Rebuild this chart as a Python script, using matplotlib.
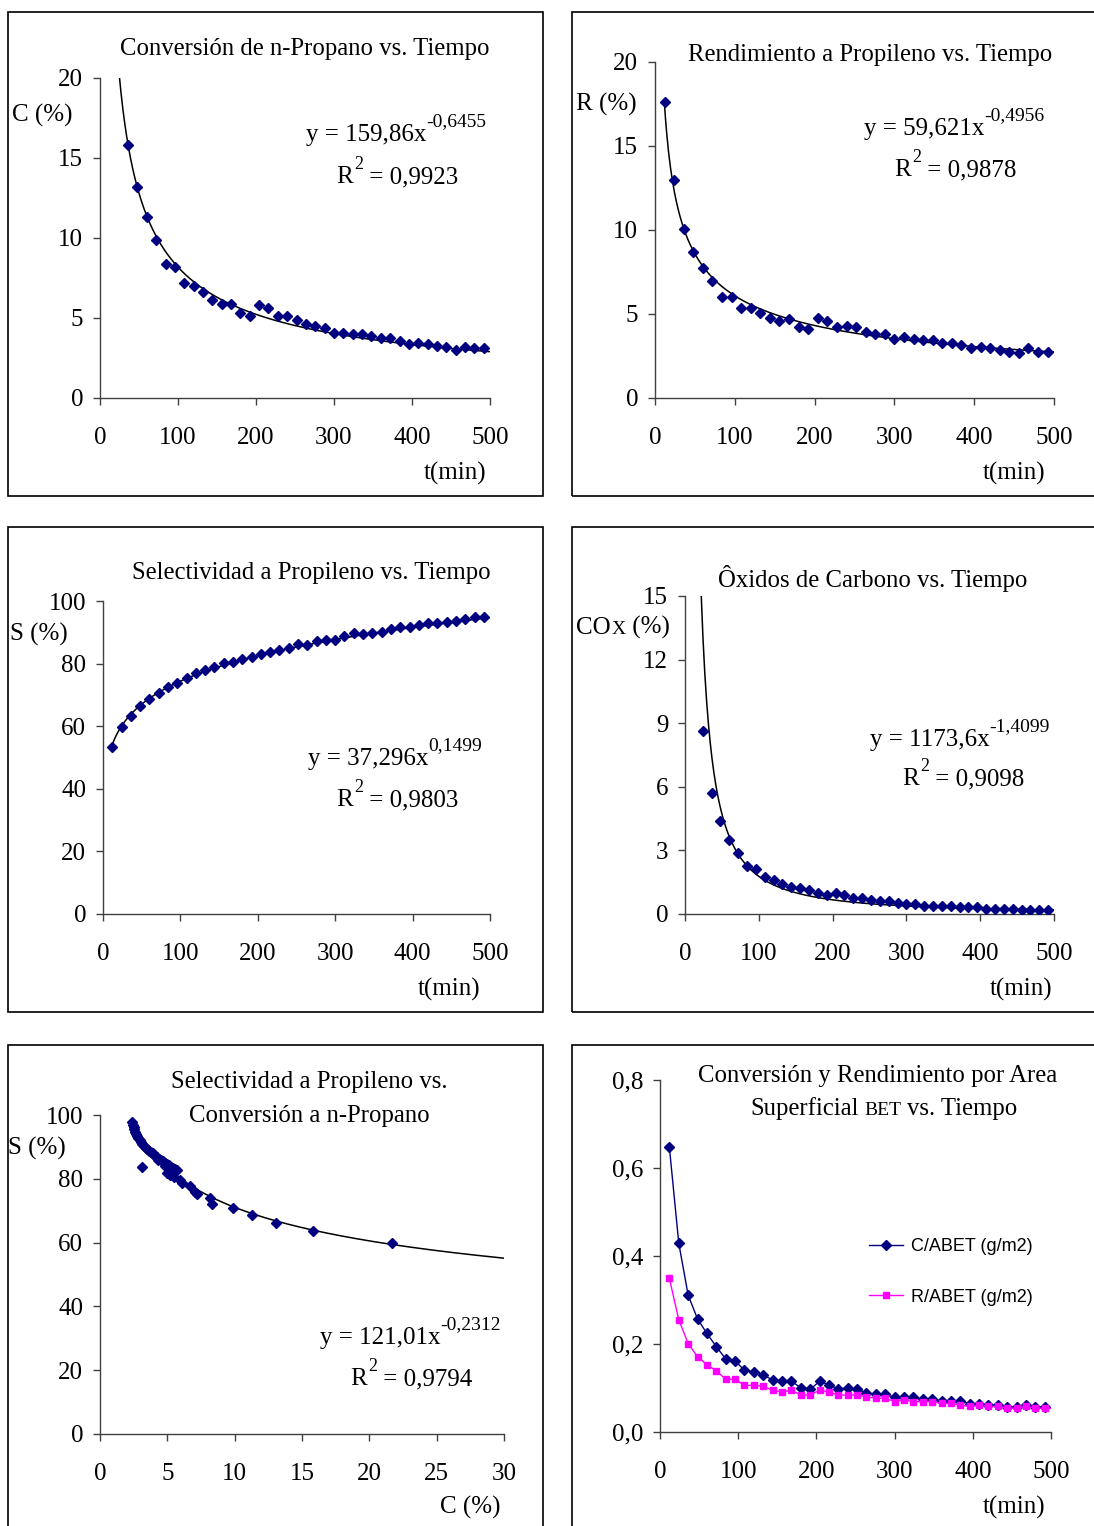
import numpy as np
import matplotlib.pyplot as plt
from matplotlib.patches import Rectangle

plt.rcParams['font.family'] = ['Liberation Serif', 'DejaVu Serif']

W, H = 1094, 1526

# tiempo de reaccion (min)
t_min = [12, 24, 36, 48, 60, 72, 84, 96, 108, 120, 132, 144, 156, 168, 180, 192,
         204, 216, 228, 240, 252, 264, 276, 288, 300, 312, 324, 336, 348, 360, 372,
         384, 396, 408, 420, 432, 444, 456, 468, 480, 492]
t_abet = t_min + [504]

# conversion de n-propano C (%)
conv = [33.0, 21.9, 15.8, 13.2, 11.3, 9.9, 8.4, 8.2, 7.2, 7.0, 6.6, 6.1, 5.9, 5.9,
        5.3, 5.1, 5.8, 5.6, 5.1, 5.1, 4.9, 4.6, 4.5, 4.4, 4.06, 4.06, 4.0, 4.0, 3.9,
        3.75, 3.75, 3.56, 3.35, 3.45, 3.35, 3.27, 3.17, 3.0, 3.17, 3.1, 3.1]
# rendimiento a propileno R (%)
rend = [17.6, 12.98, 10.06, 8.7, 7.76, 6.98, 6.03, 6.03, 5.36, 5.36, 5.08, 4.78,
        4.58, 4.68, 4.2, 4.1, 4.78, 4.58, 4.2, 4.3, 4.2, 3.9, 3.8, 3.8, 3.53, 3.63,
        3.53, 3.43, 3.43, 3.25, 3.25, 3.15, 2.96, 3.05, 2.96, 2.86, 2.76, 2.66, 2.96,
        2.76, 2.76]
# selectividad a propileno S (%)
selec = [53.4, 59.7, 63.4, 66.5, 68.6, 70.5, 72.6, 73.7, 75.3, 76.9, 78.0, 79.0,
         80.1, 80.6, 81.4, 82.0, 83.0, 83.6, 84.3, 85.1, 86.2, 85.9, 87.2, 87.5,
         87.5, 88.8, 89.7, 89.4, 89.9, 90.2, 91.0, 91.8, 91.8, 92.3, 92.9, 92.9,
         93.2, 93.7, 94.2, 95.0, 94.8]
# oxidos de carbono COx (%)
cox = [15.4, 8.65, 5.69, 4.4, 3.47, 2.88, 2.28, 2.12, 1.76, 1.59, 1.43, 1.29, 1.21,
       1.13, 0.99, 0.91, 0.99, 0.91, 0.75, 0.75, 0.68, 0.61, 0.61, 0.53, 0.45, 0.45,
       0.4, 0.4, 0.4, 0.4, 0.33, 0.33, 0.33, 0.25, 0.25, 0.25, 0.25, 0.17, 0.17,
       0.17, 0.17]
# S vs C
sc_conv = [2.40, 2.45, 2.50, 2.55, 2.62, 2.70, 2.78, 2.85, 2.95, 3.05, 3.15, 3.25,
           3.38, 3.50, 3.62, 3.75, 3.90, 4.05, 4.20, 4.35, 4.50, 4.65, 4.80, 4.95,
           5.10, 5.25, 5.40, 5.55, 5.75, 3.10, 3.90, 4.30, 4.80, 4.95, 5.20, 5.50,
           5.95, 6.06, 6.68, 7.05, 7.17, 8.17, 8.34, 9.85, 11.3, 13.07, 15.84, 21.65,
           33.0]
sc_sel = [97.9, 97.0, 96.3, 95.5, 94.8, 94.0, 93.4, 92.8, 92.2, 91.5, 91.0, 90.4,
          89.8, 89.3, 88.8, 88.3, 87.8, 87.3, 86.8, 86.3, 85.9, 85.5, 85.0, 84.6,
          84.2, 83.8, 83.4, 83.1, 82.8, 83.8, 88.0, 86.0, 84.0, 81.7, 81.2, 80.5,
          79.6, 78.8, 77.7, 76.0, 75.2, 73.9, 72.1, 70.8, 68.7, 66.2, 63.7, 59.8,
          53.4]
# por area superficial BET (g/m2)
c_abet = [0.647, 0.429, 0.311, 0.257, 0.224, 0.194, 0.166, 0.162, 0.140, 0.137,
          0.130, 0.118, 0.115, 0.115, 0.101, 0.097, 0.115, 0.1076, 0.097, 0.101,
          0.097, 0.0894, 0.0856, 0.0856, 0.0788, 0.0788, 0.0788, 0.075, 0.075,
          0.0712, 0.0712, 0.0712, 0.0644, 0.0644, 0.0606, 0.0606, 0.0568, 0.0568,
          0.0606, 0.0568, 0.0568, 0.054]
r_abet = [0.349, 0.255, 0.201, 0.171, 0.153, 0.139, 0.120, 0.120, 0.106, 0.106,
          0.104, 0.095, 0.091, 0.095, 0.084, 0.084, 0.095, 0.091, 0.084, 0.084,
          0.084, 0.080, 0.077, 0.077, 0.069, 0.073, 0.069, 0.069, 0.069, 0.065,
          0.065, 0.061, 0.058, 0.061, 0.058, 0.058, 0.054, 0.054, 0.058, 0.054,
          0.054, 0.054]

# lineas de tendencia potenciales (y = a x^b), tal como las da Excel
fit_conv = (159.86, -0.6455, '159,86', '-0,6455', '0,9923')
fit_rend = (59.621, -0.4956, '59,621', '-0,4956', '0,9878')
fit_sel = (37.296, 0.1499, '37,296', '0,1499', '0,9803')
fit_cox = (1173.6, -1.4099, '1173,6', '-1,4099', '0,9098')
fit_sc = (121.01, -0.2312, '121,01', '-0,2312', '0,9794')

NAVY = '#000080'
AX_C = '#404040'

fig = plt.figure(figsize=(W / 100, H / 100), dpi=100)


def fx(x):
    return x / W


def fy(y):
    return 1 - y / H


def new_ax(l, r, top, bot):
    return fig.add_axes([fx(l), fy(bot), (r - l) / W, (bot - top) / H])


def style(ax, xlim, ylim, xt, yt, yfmt='{:g}'):
    ax.set_xlim(*xlim)
    ax.set_ylim(*ylim)
    ax.patch.set_alpha(0)
    for s in ['top', 'right']:
        ax.spines[s].set_visible(False)
    for s in ['left', 'bottom']:
        ax.spines[s].set_color(AX_C)
        ax.spines[s].set_linewidth(1)
    ax.set_xticks(xt)
    ax.set_xticklabels(['{:g}'.format(v) for v in xt])
    ax.set_yticks(yt)
    ax.set_yticklabels([yfmt.format(v).replace('.', ',') for v in yt])
    ax.tick_params(axis='both', direction='out', length=5, width=1, color=AX_C,
                   labelsize=18)
    ax.tick_params(axis='y', pad=7)
    ax.tick_params(axis='x', pad=16)


def txt(x, y, s, size=18, ha='left', **kw):
    return fig.text(fx(x), fy(y), s, fontsize=size, ha=ha, va='center', **kw)


def equation(x, y, fit, rx, ry):
    a, b, sa, sb, r2 = fit
    m = txt(x, y, 'y = ' + sa + 'x')
    fig.axes[0].annotate(sb, xy=(1, 1), xycoords=m, xytext=(0, 2),
                         textcoords='offset points', fontsize=14,
                         ha='left', va='center')
    r = txt(rx, ry, 'R')
    s2 = fig.axes[0].annotate('2', xy=(1, 1), xycoords=r, xytext=(1, 1),
                              textcoords='offset points', fontsize=13,
                              ha='left', va='center')
    fig.axes[0].annotate(' = ' + r2, xy=(1, 0), xycoords=(s2, r), xytext=(0, 0),
                         textcoords='offset points', fontsize=18,
                         ha='left', va='bottom')


def trend(ax, fit, x0, x1):
    a, b = fit[0], fit[1]
    xs = np.linspace(x0, x1, 400)
    ax.plot(xs, a * xs ** b, color='black', lw=1.1, zorder=2)


def dots(ax, x, y):
    ax.plot(x, y, 'D', color=NAVY, ms=5.5, zorder=3)


# marcos de cada grafico
for (l, top, r, b) in [(8, 12, 543, 496), (572, 12, 1100, 496),
                       (8, 527, 543, 1012), (572, 527, 1100, 1012),
                       (8, 1045, 543, 1530), (572, 1045, 1100, 1530)]:
    fig.add_artist(Rectangle((fx(l), fy(b)), (r - l) / W, (b - top) / H,
                             transform=fig.transFigure, fill=False,
                             ec='black', lw=1.2))

TS = 17.8  # titulos

# 1 - conversion
ax1 = new_ax(100, 490, 78, 398)
style(ax1, (0, 500), (0, 20), range(0, 501, 100), range(0, 21, 5))
trend(ax1, fit_conv, 12, 504)
dots(ax1, t_min, conv)
txt(305, 49, 'Conversión de n-Propano vs. Tiempo', size=TS, ha='center')
txt(12, 115, 'C (%)')
txt(424, 473, 't(min)')

# 2 - rendimiento
ax2 = new_ax(655, 1054, 62, 398)
style(ax2, (0, 500), (0, 20), range(0, 501, 100), range(0, 21, 5))
trend(ax2, fit_rend, 12, 504)
dots(ax2, t_min, rend)
txt(870, 55, 'Rendimiento a Propileno vs. Tiempo', size=TS, ha='center')
txt(576, 104, 'R (%)')
txt(983, 473, 't(min)')

# 3 - selectividad
ax3 = new_ax(103, 490, 601, 914)
style(ax3, (0, 500), (0, 100), range(0, 501, 100), range(0, 101, 20))
trend(ax3, fit_sel, 12, 504)
dots(ax3, t_min, selec)
txt(311, 573, 'Selectividad a Propileno vs. Tiempo', size=TS, ha='center')
txt(10, 634, 'S (%)')
txt(418, 989, 't(min)')

# 4 - oxidos de carbono
ax4 = new_ax(685, 1054, 596, 914)
style(ax4, (0, 500), (0, 15), range(0, 501, 100), range(0, 16, 3))
trend(ax4, fit_cox, 12, 504)
dots(ax4, t_min, cox)
txt(873, 578, 'Ôxidos de Carbono vs. Tiempo', size=TS, ha='center')
co = txt(576, 628, 'CO')
xx = ax4.annotate('X', xy=(1, 0), xycoords=co, xytext=(1, 1),
                  textcoords='offset points', fontsize=14, ha='left', va='bottom')
ax4.annotate(' (%)', xy=(1, 0), xycoords=(xx, co), fontsize=18,
             ha='left', va='bottom')
txt(990, 989, 't(min)')

# 5 - selectividad vs conversion
ax5 = new_ax(100, 504, 1115, 1434)
style(ax5, (0, 30), (0, 100), range(0, 31, 5), range(0, 101, 20))
trend(ax5, fit_sc, min(sc_conv), max(sc_conv))
dots(ax5, sc_conv, sc_sel)
txt(309, 1082, 'Selectividad a Propileno vs.', size=TS, ha='center')
txt(309, 1116, 'Conversión a n-Propano', size=TS, ha='center')
txt(8, 1148, 'S (%)')
txt(440, 1507, 'C (%)')

# 6 - por area BET
ax6 = new_ax(660, 1051, 1080, 1432)
style(ax6, (0, 500), (0, 0.8), range(0, 501, 100), [0, 0.2, 0.4, 0.6, 0.8],
      yfmt='{:.1f}')
ax6.plot(t_abet, c_abet, '-', color=NAVY, lw=1, marker='D', ms=5,
         markevery=list(range(41)), label='C/ABET (g/m2)')
ax6.plot(t_abet, r_abet, '-', color='#FF00FF', lw=1, marker='s', ms=5,
         markevery=list(range(41)), label='R/ABET (g/m2)')
ax6.legend(loc='upper left', bbox_to_anchor=(0.535, 0.55), frameon=False,
           prop={'family': 'Liberation Sans', 'size': 13}, handlelength=1.9,
           handletextpad=0.4, labelspacing=1.85, borderpad=0, borderaxespad=0)
txt(878, 1076, 'Conversión y Rendimiento por Area', size=TS, ha='center')
sp = txt(750, 1109, 'Superficial', size=TS)
bet = ax6.annotate('BET', xy=(1, 0), xycoords=sp, xytext=(4, 1),
                   textcoords='offset points', fontsize=14, ha='left', va='bottom')
ax6.annotate('vs. Tiempo', xy=(1, 0), xycoords=(bet, sp), xytext=(4, 0),
             textcoords='offset points', fontsize=TS, ha='left', va='bottom')
txt(983, 1507, 't(min)')

# ecuaciones
equation(306, 135, fit_conv, 336, 177)
equation(864, 129, fit_rend, 894, 170)
equation(308, 759, fit_sel, 336, 800)
equation(870, 740, fit_cox, 902, 779)
equation(320, 1338, fit_sc, 350, 1379)

fig.savefig('out.png', dpi=100)
